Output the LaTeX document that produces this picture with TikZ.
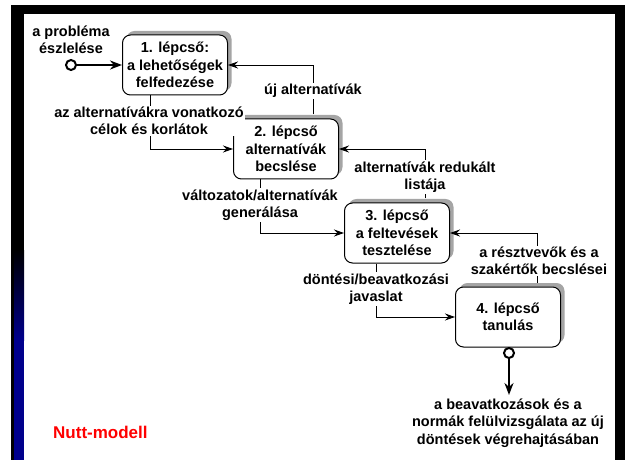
\documentclass[tikz,border=0pt]{standalone}
\usepackage{fontspec}
\setmainfont{Liberation Sans}
\usetikzlibrary{arrows.meta,shadows}
\definecolor{barblue}{RGB}{0,0,140}
\definecolor{shadowgray}{RGB}{165,165,165}
\begin{document}
\begin{tikzpicture}[x=1pt,y=-1pt,
  txt/.style={font=\bfseries\fontsize{14.5}{17.5}\selectfont, align=center, inner sep=1pt},
  stepbox/.style={txt, draw=black, line width=1pt, rounded corners=8pt, fill=white,
    minimum width=105pt, minimum height=60pt, inner sep=0pt,
    drop shadow={shadow xshift=4pt, shadow yshift=4pt, fill=shadowgray, opacity=1}},
  lbl/.style={txt, fill=white},
  conn/.style={line width=0.9pt, -{Stealth[length=10pt,width=7pt]}},
  thickconn/.style={line width=2.4pt, -{Stealth[length=12pt,width=9pt]}},
  endpoint/.style={circle, draw=black, line width=2pt, minimum size=10pt, inner sep=0pt, fill=white},
]
\useasboundingbox (0,0) rectangle (625,460);
% frame
\fill[black] (11,5) rectangle (625,14);
\fill[black] (615,5) rectangle (625,460);
\fill[black] (11,5) rectangle (24,250);
\fill[black] (11,250) rectangle (14,460);
\shade[top color=black, bottom color=barblue] (14,250) rectangle (24,340);
\fill[barblue] (14,340) rectangle (24,460);

% steps
\node[stepbox] (s1) at (175,65) {1. lépcső:\\a lehetőségek\\felfedezése};
\node[stepbox] (s2) at (286,149) {2. lépcső\\alternatívák\\becslése};
\node[stepbox] (s3) at (397,233) {3. lépcső\\a feltevések\\tesztelése};
\node[stepbox] (s4) at (508,317) {4. lépcső\\tanulás};

% start
\node[endpoint] (start) at (71,65) {};
\draw[thickconn] (start) -- (s1);
\node[txt] (startlbl) at (71,40) {a probléma\\észlelése};

% downward connectors
\draw[conn] ([xshift=-25pt]s1.south) |- (s2.west);
\draw[conn] ([xshift=-26pt]s2.south) |- (s3.west);
\draw[conn] ([xshift=-21pt]s3.south) |- (s4.west);

% upward connectors
\draw[conn] ([xshift=27pt,yshift=4pt]s2.north) |- (s1.east);
\draw[conn] ([xshift=28pt,yshift=4pt]s3.north) |- (s2.east);
\draw[conn] ([xshift=29pt,yshift=4pt]s4.north) |- (s3.east);

% labels
\node[lbl] (l1) at (149,121) {az alternatívákra vonatkozó\\célok és korlátok};
\node[lbl] (l2) at (313,91) {új alternatívák};
\node[lbl] (l3) at (425,177) {alternatívák redukált\\listája};
\node[lbl] (l4) at (260,205) {változatok/alternatívák\\generálása};
\node[lbl] (l5) at (539,261) {a résztvevők és a\\szakértők becslései};
\node[lbl] (l6) at (376,289) {döntési/beavatkozási\\javaslat};

% end
\node[endpoint] (end) at (509,353) {};
\coordinate (endtip) at (509,395);
\draw[thickconn] (end) -- (endtip);
\node[txt] (endlbl) at (508,423) {a beavatkozások és a\\normák felülvizsgálata az új\\döntések végrehajtásában};

% title
\node[font=\bfseries\fontsize{17}{20}\selectfont, text=red, anchor=west, inner sep=0pt] (title) at (53,432) {Nutt-modell};
\end{tikzpicture}
\end{document}
